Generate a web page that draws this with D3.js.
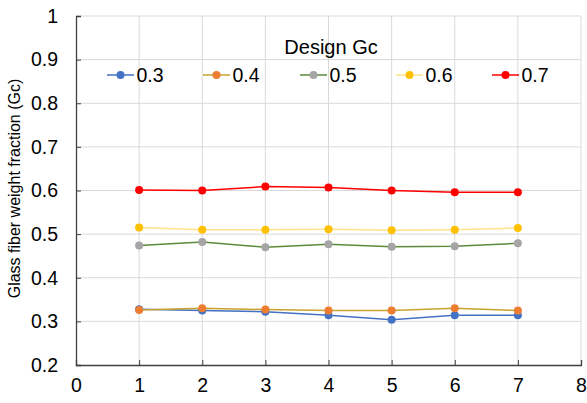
<!DOCTYPE html>
<html><head><meta charset="utf-8">
<script src="https://cdn.jsdelivr.net/npm/d3@7"></script>
<style>body{margin:0;background:#fff}svg{display:block;font-family:"Liberation Sans",Arial,sans-serif}</style>
</head><body>
<svg id="c" width="587" height="403"></svg>
<script>
const xPoints = [1, 2, 3, 4, 5, 6, 7];
const seriesNames = ["0.3", "0.4", "0.5", "0.6", "0.7"];
const gc03 = [0.328, 0.325, 0.322, 0.314, 0.304, 0.314, 0.314];
const gc04 = [0.326, 0.330, 0.327, 0.325, 0.325, 0.330, 0.325];
const gc05 = [0.474, 0.482, 0.470, 0.477, 0.471, 0.472, 0.479];
const gc06 = [0.515, 0.510, 0.510, 0.511, 0.509, 0.510, 0.514];
const gc07 = [0.601, 0.600, 0.609, 0.607, 0.600, 0.596, 0.596];
const xTicks = [0, 1, 2, 3, 4, 5, 6, 7, 8];
const yTicks = [0.2, 0.3, 0.4, 0.5, 0.6, 0.7, 0.8, 0.9, 1];

const seriesVals = [gc03, gc04, gc05, gc06, gc07];
const lineColors = ["#4472C4", "#C9A12C", "#5B8A3A", "#FFE28A", "#FF0000"];
const markerColors = ["#4472C4", "#ED7D31", "#A5A5A5", "#FFC000", "#FF0000"];

const svg = d3.select("#c");
const L = 76, R = 581, T = 16, B = 365;
const x = d3.scaleLinear().domain([0, 8]).range([L, R]);
const y = d3.scaleLinear().domain([0.2, 1]).range([B, T]);

// gridlines
svg.append("g").selectAll("line").data(yTicks.slice(1)).join("line")
  .attr("x1", L).attr("x2", R).attr("y1", d => y(d)).attr("y2", d => y(d))
  .attr("stroke", "#d9d9d9").attr("stroke-width", 1);
svg.append("g").selectAll("line").data(xTicks.slice(1)).join("line")
  .attr("x1", d => x(d)).attr("x2", d => x(d)).attr("y1", T).attr("y2", B)
  .attr("stroke", "#d9d9d9").attr("stroke-width", 1);

// axes
const xAxis = d3.axisBottom(x).tickValues(xTicks).tickSize(-5).tickPadding(13).tickFormat(d3.format("d"));
const gx = svg.append("g").attr("transform", `translate(0,${B})`).call(xAxis);
const yAxis = d3.axisLeft(y).tickValues(yTicks).tickSize(-5).tickPadding(18).tickFormat(d => d === 1 ? "1" : d3.format(".1f")(d));
const gy = svg.append("g").attr("transform", `translate(${L},0)`).call(yAxis);
[gx, gy].forEach(g => {
  g.select(".domain").attr("stroke", "#404040").attr("stroke-width", 1.3);
  g.selectAll(".tick line").attr("stroke", "#404040");
  g.selectAll(".tick text").attr("fill", "#000").style("font-size", "19.5px").style("font-family", '"Liberation Sans",Arial,sans-serif');
});
gx.selectAll(".tick text").attr("dy", "0.71em");

// axis title
svg.append("text").attr("transform", `translate(20,188.5) rotate(-90)`)
  .attr("text-anchor", "middle").style("font-size", "16px").attr("fill", "#000")
  .text("Glass fiber weight fraction (Gc)");

// series
const line = d3.line().x((d, i) => x(xPoints[i])).y(d => y(d));
seriesVals.forEach((vals, k) => {
  svg.append("path").datum(vals).attr("d", line).attr("fill", "none")
    .attr("stroke", lineColors[k]).attr("stroke-width", 1.5);
});
seriesVals.forEach((vals, k) => {
  svg.append("g").selectAll("circle").data(vals).join("circle")
    .attr("cx", (d, i) => x(xPoints[i])).attr("cy", d => y(d)).attr("r", 4)
    .attr("fill", markerColors[k]);
});

// legend
svg.append("text").attr("x", 331).attr("y", 54).attr("text-anchor", "middle")
  .style("font-size", "20px").attr("fill", "#000").text("Design Gc");
const legX = [107, 203, 300, 396, 492];
seriesNames.forEach((n, k) => {
  const g = svg.append("g").attr("transform", `translate(${legX[k]},75)`);
  g.append("line").attr("x1", 0).attr("x2", 27).attr("stroke", lineColors[k]).attr("stroke-width", 1.5);
  g.append("circle").attr("cx", 13.5).attr("r", 4).attr("fill", markerColors[k]);
  g.append("text").attr("x", 29.5).attr("y", 7).style("font-size", "19.5px").attr("fill", "#000").text(n);
});
</script>
</body></html>
